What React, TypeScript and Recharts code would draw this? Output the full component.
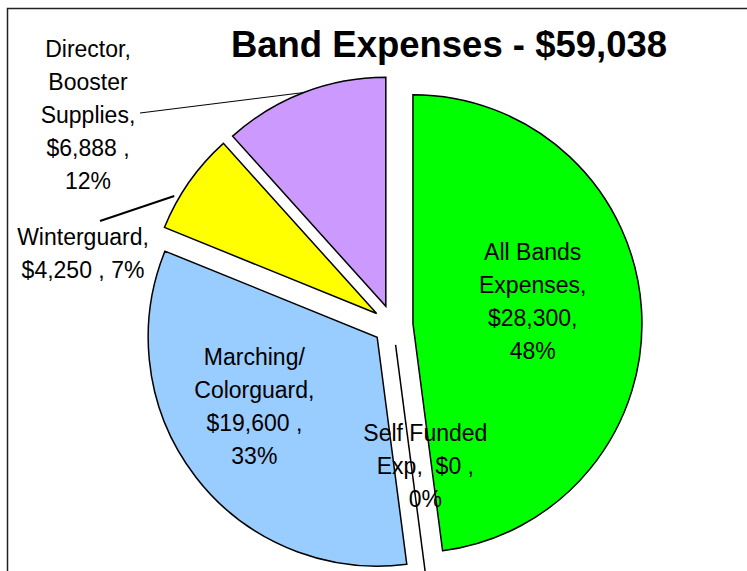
import { PieChart, Pie, Cell } from 'recharts'

// Band expenses, clockwise from 12 o'clock
const categories = [
  'All Bands Expenses',
  'Self Funded Exp',
  'Marching/Colorguard',
  'Winterguard',
  'Director, Booster Supplies',
]
const amounts = [28300, 0, 19600, 4250, 6888]
const colors = ['#00FF00', '#FFFFFF', '#99CCFF', '#FFFF00', '#CC99FF']
const labelLines = [
  ['All Bands', 'Expenses,', '$28,300,', '48%'],
  ['Self Funded', 'Exp,  $0 ,', '0%'],
  ['Marching/', 'Colorguard,', '$19,600 ,', '33%'],
  ['Winterguard,', '$4,250 , 7%'],
  ['Director,', 'Booster', 'Supplies,', '$6,888 ,', '12%'],
]
const title = 'Band Expenses - $59,038'

// layout
const W = 747
const H = 571
const CX = 393
const CY = 325
const RADIUS = 229
const EXPLODE = 20
const LINE_H = 33
const FONT = '"Liberation Sans", Arial, sans-serif'
const RADIAN = Math.PI / 180

// inside labels: distance from slice tip along mid angle + nudge
// outside labels: text centre + start of leader line (end: radius / angle tweak)
const labelLayout = [
  { r: 120, dx: 0, dy: -14 },
  { r: 122, dx: 14, dy: 0 },
  { r: 140, dx: -12, dy: -16 },
  { tx: 83, ty: 253, lx: 100, ly: 221, lw: 2, lr: 234, la: 4.9 },
  { tx: 88, ty: 115, lx: 140, ly: 113, lw: 1, lr: RADIUS, la: 0 },
] as any[]

const total = amounts.reduce((a, b) => a + b, 0)
const data = categories.map((name, i) => ({ name, value: amounts[i] }))

const midAngles = amounts.map((v, i) => {
  const before = amounts.slice(0, i).reduce((a, b) => a + b, 0)
  return 90 - ((before + v / 2) / total) * 360
})

const polar = (x: number, y: number, r: number, angle: number) => ({
  x: x + r * Math.cos(-angle * RADIAN),
  y: y + r * Math.sin(-angle * RADIAN),
})

const tips = midAngles.map((a) => polar(CX, CY, EXPLODE, a))

function LabelText({ lines, x, y }: { lines: string[]; x: number; y: number }) {
  const first = y - ((lines.length - 1) * LINE_H) / 2 + 8
  return (
    <text x={x} textAnchor="middle" fontSize={23} fontFamily={FONT} fill="#000">
      {lines.map((l, k) => (
        <tspan key={k} x={x} y={first + k * LINE_H} style={{ whiteSpace: 'pre' }}>
          {l}
        </tspan>
      ))}
    </text>
  )
}

const renderLabel = (slice: number) => (props: any) => {
  if (props.index !== slice) return null
  const tip = tips[slice]
  const mid = midAngles[slice]
  const lay = labelLayout[slice]

  if (lay.tx !== undefined) {
    const end = polar(tip.x, tip.y, lay.lr, mid + lay.la)
    return (
      <g>
        <line x1={lay.lx} y1={lay.ly} x2={end.x} y2={end.y} stroke="#000" strokeWidth={lay.lw} />
        <LabelText lines={labelLines[slice]} x={lay.tx} y={lay.ty} />
      </g>
    )
  }
  const edge = polar(tip.x, tip.y, RADIUS, mid)
  const p = polar(tip.x, tip.y, lay.r, mid)
  return (
    <g>
      {amounts[slice] === 0 && (
        <line x1={tip.x} y1={tip.y} x2={edge.x} y2={edge.y} stroke="#000" strokeWidth={1.5} />
      )}
      <LabelText lines={labelLines[slice]} x={p.x + lay.dx} y={p.y + lay.dy} />
    </g>
  )
}

export default function App() {
  return (
    <div
      style={{
        position: 'absolute',
        left: 0,
        top: 0,
        width: W,
        height: H,
        overflow: 'hidden',
        background: '#fff',
      }}
    >
      <svg width={W} height={H} style={{ position: 'absolute', left: 0, top: 0 }}>
        <rect x={7.5} y={8.5} width={760} height={700} fill="none" stroke="#222" strokeWidth={1.5} />
        <text
          x={449}
          y={57}
          textAnchor="middle"
          fontSize={36.5}
          fontWeight="bold"
          fontFamily={FONT}
          fill="#000"
        >
          {title}
        </text>
      </svg>
      <div style={{ position: 'absolute', left: 0, top: 0 }}>
        <PieChart width={W} height={H} margin={{ top: 0, right: 0, bottom: 0, left: 0 }}>
          {categories.map((_, slice) => (
            <Pie
              key={slice}
              data={data}
              dataKey="value"
              nameKey="name"
              cx={tips[slice].x}
              cy={tips[slice].y}
              outerRadius={RADIUS}
              startAngle={90}
              endAngle={-270}
              labelLine={false}
              label={renderLabel(slice)}
              isAnimationActive={false}
            >
              {data.map((_, i) => (
                <Cell
                  key={`cell-${i}`}
                  fill={i === slice ? colors[i] : 'none'}
                  stroke={i === slice ? '#000' : 'none'}
                  strokeWidth={1.5}
                />
              ))}
            </Pie>
          ))}
        </PieChart>
      </div>
    </div>
  )
}
